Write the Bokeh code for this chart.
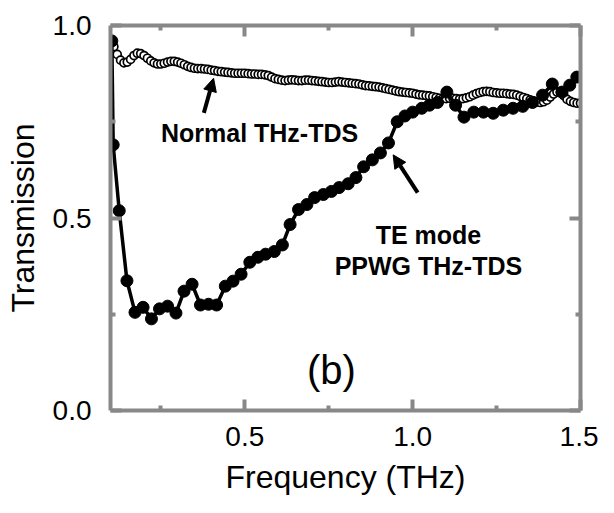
import numpy as np
from bokeh.plotting import figure
from bokeh.models import (Range1d, LinearAxis, FixedTicker, Arrow, NormalHead,
                          Label, CustomJSTickFormatter, NumeralTickFormatter, ColumnDataSource)
from bokeh.embed import file_html
from bokeh.resources import INLINE

# ---------------- data ----------------
# Normal THz-TDS (open circles), sampled every 0.01 THz from 0.10 to 1.50
normal_freq = np.round(np.arange(0.10, 1.5001, 0.01), 3)
normal_T = [
    0.955, 0.945, 0.925, 0.910, 0.903, 0.905, 0.912, 0.922, 0.928, 0.927,
    0.922, 0.915, 0.908, 0.903, 0.900, 0.900, 0.902, 0.905, 0.907, 0.907,
    0.905, 0.902, 0.898, 0.894, 0.891, 0.889, 0.888, 0.888, 0.887, 0.886,
    0.884, 0.883, 0.881, 0.880, 0.879, 0.878, 0.877, 0.876, 0.876, 0.876,
    0.876, 0.875, 0.874, 0.874, 0.873, 0.873, 0.872, 0.870, 0.866, 0.862,
    0.860, 0.858, 0.857, 0.858, 0.859, 0.858, 0.857, 0.857, 0.858, 0.858,
    0.857, 0.856, 0.855, 0.854, 0.853, 0.852, 0.852, 0.853, 0.854, 0.853,
    0.852, 0.851, 0.850, 0.849, 0.848, 0.846, 0.844, 0.843, 0.842, 0.841,
    0.840, 0.838, 0.836, 0.834, 0.832, 0.830, 0.828, 0.827, 0.826, 0.825,
    0.824, 0.822, 0.820, 0.819, 0.818, 0.817, 0.815, 0.813, 0.811, 0.810,
    0.810, 0.811, 0.811, 0.810, 0.809, 0.810, 0.812, 0.815, 0.819, 0.823,
    0.826, 0.828, 0.829, 0.828, 0.826, 0.825, 0.824, 0.824, 0.823, 0.822,
    0.821, 0.819, 0.816, 0.813, 0.810, 0.807, 0.804, 0.801, 0.800, 0.802,
    0.806, 0.814, 0.822, 0.827, 0.826, 0.818, 0.808, 0.803, 0.800, 0.798,
    0.798,
]

# TE mode PPWG THz-TDS (filled circles with line)
te_freq = [0.104, 0.108, 0.126, 0.149, 0.173, 0.197, 0.222, 0.246, 0.270, 0.295,
           0.319, 0.343, 0.368, 0.392, 0.416, 0.442, 0.465, 0.489, 0.515, 0.539,
           0.562, 0.588, 0.612, 0.635, 0.660, 0.685, 0.708, 0.734, 0.758, 0.781,
           0.808, 0.831, 0.854, 0.880, 0.904, 0.928, 0.954, 0.977, 1.000, 1.027,
           1.050, 1.074, 1.102, 1.128, 1.153, 1.182, 1.211, 1.240, 1.270, 1.299,
           1.328, 1.357, 1.387, 1.416, 1.445, 1.468, 1.489]
te_T = [0.960, 0.690, 0.519, 0.337, 0.255, 0.268, 0.238, 0.264, 0.271, 0.253,
        0.310, 0.328, 0.274, 0.276, 0.274, 0.323, 0.336, 0.354, 0.385, 0.398,
        0.406, 0.413, 0.430, 0.483, 0.522, 0.535, 0.553, 0.561, 0.569, 0.579,
        0.589, 0.605, 0.633, 0.651, 0.669, 0.695, 0.750, 0.765, 0.775, 0.785,
        0.793, 0.800, 0.827, 0.793, 0.762, 0.775, 0.775, 0.772, 0.780, 0.785,
        0.790, 0.800, 0.819, 0.848, 0.827, 0.845, 0.866]

x_major_ticks = [0.5, 1.0, 1.5]
x_minor_ticks = [0.25, 0.75, 1.25]
y_major_ticks = [0.0, 0.5, 1.0]
y_minor_ticks = [0.25, 0.75]

x_label = "Frequency (THz)"
y_label = "Transmission"
normal_text = "Normal THz-TDS"
te_text_1 = "TE mode"
te_text_2 = "PPWG THz-TDS"
panel_text = "(b)"

# ---------------- figure ----------------
FONT = "Liberation Sans"
GRAY = "#888888"

p = figure(width=598, height=497, output_backend="svg", toolbar_location=None,
           x_range=Range1d(0.1, 1.5), y_range=Range1d(0.0, 1.0),
           x_axis_type=None, y_axis_type=None,
           min_border_left=110, min_border_right=18, min_border_top=25,
           min_border_bottom=85)
p.outline_line_color = None
p.xgrid.visible = False
p.ygrid.visible = False
p.background_fill_color = "white"
p.border_fill_color = "white"


def style_axis(ax, ticks, minor, labelled):
    ax.ticker = FixedTicker(ticks=ticks, minor_ticks=minor)
    ax.axis_line_color = GRAY
    ax.axis_line_width = 4
    ax.major_tick_line_color = GRAY
    ax.major_tick_line_width = 4
    ax.minor_tick_line_color = GRAY
    ax.minor_tick_line_width = 4
    ax.major_tick_in = 11
    ax.major_tick_out = 0
    ax.minor_tick_in = 5
    ax.minor_tick_out = 0
    if labelled:
        ax.formatter = NumeralTickFormatter(format="0.0")
        ax.major_label_text_font = FONT
        ax.major_label_text_font_size = "28px"
        ax.major_label_text_color = "black"
        ax.axis_label_text_font = FONT
        ax.axis_label_text_font_size = "32px"
        ax.axis_label_text_font_style = "normal"
        ax.axis_label_text_color = "black"
    else:
        ax.formatter = CustomJSTickFormatter(code="return ''")
        ax.major_label_standoff = 0


xb = LinearAxis(axis_label=x_label)
style_axis(xb, x_major_ticks, x_minor_ticks, True)
xb.major_label_standoff = 16
xb.axis_label_standoff = 10
p.add_layout(xb, "below")

yl = LinearAxis(axis_label=y_label)
style_axis(yl, y_major_ticks, y_minor_ticks, True)
yl.major_label_standoff = 19
yl.axis_label_standoff = 9
p.add_layout(yl, "left")

xt = LinearAxis()
style_axis(xt, x_major_ticks, x_minor_ticks, False)
p.add_layout(xt, "above")

yr = LinearAxis()
style_axis(yr, y_major_ticks, y_minor_ticks, False)
p.add_layout(yr, "right")

# Normal THz-TDS open circles
src_n = ColumnDataSource(dict(f=normal_freq, t=normal_T))
p.scatter("f", "t", source=src_n, marker="circle", size=8,
          fill_color="white", line_color="black", line_width=1.7)

# TE mode line + filled circles
src_te = ColumnDataSource(dict(f=te_freq, t=te_T))
p.line("f", "t", source=src_te, line_color="black", line_width=3.5)
p.scatter("f", "t", source=src_te, marker="circle", size=12,
          fill_color="black", line_color="black")

# Arrows
arrow_normal = dict(x_start=0.378, y_start=0.773, x_end=0.407, y_end=0.863)
arrow_te = dict(x_start=1.015, y_start=0.566, x_end=0.942, y_end=0.664)
for a in (arrow_normal, arrow_te):
    p.add_layout(Arrow(end=NormalHead(size=13, fill_color="black", line_color="black"),
                       line_color="black", line_width=4, **a))

# Text labels
p.add_layout(Label(x=0.544, y=0.721, text=normal_text, text_align="center",
                   text_baseline="alphabetic", text_font=FONT, text_font_size="25px",
                   text_font_style="bold", text_color="black"))
p.add_layout(Label(x=1.047, y=0.457, text=te_text_1, text_align="center",
                   text_baseline="alphabetic", text_font=FONT, text_font_size="25px",
                   text_font_style="bold", text_color="black"))
p.add_layout(Label(x=1.047, y=0.375, text=te_text_2, text_align="center",
                   text_baseline="alphabetic", text_font=FONT, text_font_size="25px",
                   text_font_style="bold", text_color="black"))
p.add_layout(Label(x=0.758, y=0.106, text=panel_text, text_align="center",
                   text_baseline="alphabetic", text_font=FONT, text_font_size="40px",
                   text_color="black"))

open("out.html", "w").write(file_html(p, INLINE))
